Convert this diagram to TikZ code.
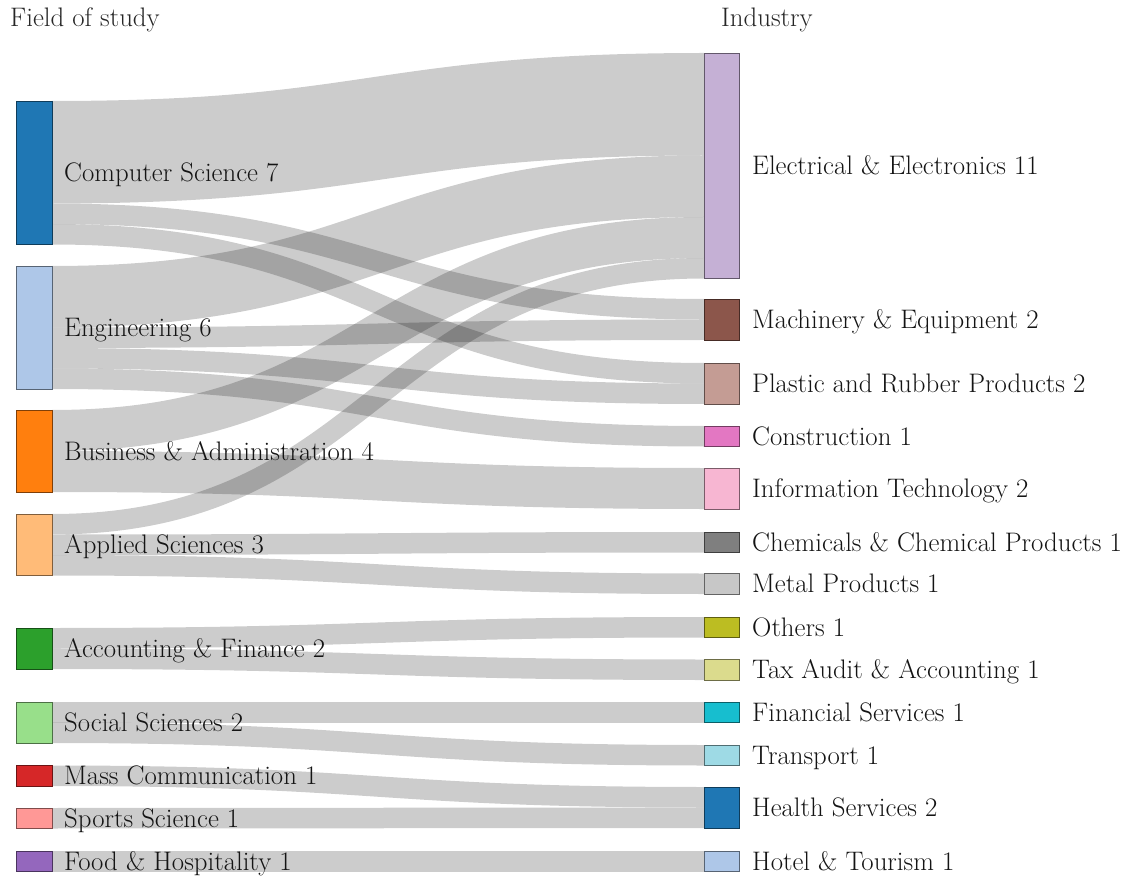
\documentclass[tikz,border=0pt]{standalone}
\usepackage{fontspec}
\usetikzlibrary{calc}
\pgfdeclarelayer{back}
\pgfdeclarelayer{bg}
\pgfsetlayers{back,bg,main}
\definecolor{cA}{HTML}{1F77B4}
\definecolor{cB}{HTML}{AEC7E8}
\definecolor{cC}{HTML}{FF7F0E}
\definecolor{cD}{HTML}{FFBB78}
\definecolor{cE}{HTML}{2CA02C}
\definecolor{cF}{HTML}{98DF8A}
\definecolor{cG}{HTML}{D62728}
\definecolor{cH}{HTML}{FF9896}
\definecolor{cI}{HTML}{9467BD}
\definecolor{cJ}{HTML}{C5B0D5}
\definecolor{cK}{HTML}{8C564B}
\definecolor{cL}{HTML}{C49C94}
\definecolor{cM}{HTML}{E377C2}
\definecolor{cN}{HTML}{F7B6D2}
\definecolor{cO}{HTML}{7F7F7F}
\definecolor{cP}{HTML}{C7C7C7}
\definecolor{cQ}{HTML}{BCBD22}
\definecolor{cR}{HTML}{DBDB8D}
\definecolor{cS}{HTML}{17BECF}
\definecolor{cT}{HTML}{9EDAE5}
\def\uu{20.5}
\tikzset{
  lbox/.style={draw=#1!50!black, fill=#1, line width=0.8pt, minimum width=36pt, inner sep=0pt, outer sep=0pt, anchor=north west},
  rbox/.style={draw=#1!50!black, fill=#1, line width=0.8pt, minimum width=35pt, inner sep=0pt, outer sep=0pt, anchor=north west},
  lbl/.style={font=\fontsize{26.8}{30}\selectfont, text=black!92, inner sep=0pt, anchor=base west},
  hdr/.style={font=\fontsize{26.8}{30}\selectfont, text=black!85, inner sep=0pt, anchor=base west},
  flowline/.style={draw=black, draw opacity=0.2}
}
\newcommand\flow[5]{%
  \begin{pgfonlayer}{bg}
  \draw[flowline, line width=#5*\uu pt] let \p1=($(#1.north east)+(0,#2*\uu)$), \p2=($(#3.north west)+(0,#4*\uu)$) in
    (\p1) .. controls ({0.5*\x1+0.5*\x2},\y1) and ({0.5*\x1+0.5*\x2},\y2) .. (\p2);
  \end{pgfonlayer}}
\begin{document}
\begin{tikzpicture}[x=1pt,y=-1pt]
\begin{pgfonlayer}{back}
\fill[white] (0,0) rectangle (1133,877);
\end{pgfonlayer}
\useasboundingbox (0,0) rectangle (1133,877);

% headers
\node[hdr] (h1) at (10,27) {Field of study};
\node[hdr] (h2) at (721,27) {Industry};

% left nodes
\node[lbox=cA, minimum height=143.5pt] (cs) at (16,101) {};
\node[lbox=cB, minimum height=123pt] (eng) at (16,266) {};
\node[lbox=cC, minimum height=82pt] (bus) at (16,410) {};
\node[lbox=cD, minimum height=61.5pt] (app) at (16,514) {};
\node[lbox=cE, minimum height=41pt] (acc) at (16,628) {};
\node[lbox=cF, minimum height=41pt] (soc) at (16,702) {};
\node[lbox=cG, minimum height=20.5pt] (mass) at (16,765.5) {};
\node[lbox=cH, minimum height=20.5pt] (spo) at (16,808) {};
\node[lbox=cI, minimum height=20.5pt] (food) at (16,851) {};

% right nodes
\node[rbox=cJ, minimum height=225.5pt] (el) at (704,53) {};
\node[rbox=cK, minimum height=41pt] (mach) at (704,299) {};
\node[rbox=cL, minimum height=41pt] (plas) at (704,363) {};
\node[rbox=cM, minimum height=20.5pt] (con) at (704,426) {};
\node[rbox=cN, minimum height=41pt] (it) at (704,468) {};
\node[rbox=cO, minimum height=20.5pt] (chem) at (704,532) {};
\node[rbox=cP, minimum height=20.5pt] (met) at (704,573.5) {};
\node[rbox=cQ, minimum height=20.5pt] (oth) at (704,617) {};
\node[rbox=cR, minimum height=20.5pt] (tax) at (704,659.5) {};
\node[rbox=cS, minimum height=20.5pt] (fin) at (704,702) {};
\node[rbox=cT, minimum height=20.5pt] (tra) at (704,745) {};
\node[rbox=cA, minimum height=41pt] (hea) at (704,787) {};
\node[rbox=cB, minimum height=20.5pt] (hot) at (704,851) {};

% flows
\flow{cs}{2.5}{el}{2.5}{5}
\flow{cs}{5.5}{mach}{0.5}{1}
\flow{cs}{6.5}{plas}{0.5}{1}
\flow{eng}{1.5}{el}{6.5}{3}
\flow{eng}{3.5}{mach}{1.5}{1}
\flow{eng}{4.5}{plas}{1.5}{1}
\flow{eng}{5.5}{con}{0.5}{1}
\flow{bus}{1}{el}{9}{2}
\flow{bus}{3}{it}{1}{2}
\flow{app}{0.5}{el}{10.5}{1}
\flow{app}{1.5}{chem}{0.5}{1}
\flow{app}{2.5}{met}{0.5}{1}
\flow{acc}{0.5}{oth}{0.5}{1}
\flow{acc}{1.5}{tax}{0.5}{1}
\flow{soc}{0.5}{fin}{0.5}{1}
\flow{soc}{1.5}{tra}{0.5}{1}
\flow{mass}{0.5}{hea}{0.5}{1}
\flow{spo}{0.5}{hea}{1.5}{1}
\flow{food}{0.5}{hot}{0.5}{1}

% left labels
\node[lbl] (csT) at ($(cs.east)+(12,9.2)$) {Computer Science 7};
\node[lbl] (engT) at ($(eng.east)+(12,9.2)$) {Engineering 6};
\node[lbl] (busT) at ($(bus.east)+(12,9.2)$) {Business \& Administration 4};
\node[lbl] (appT) at ($(app.east)+(12,9.2)$) {Applied Sciences 3};
\node[lbl] (accT) at ($(acc.east)+(12,9.2)$) {Accounting \& Finance 2};
\node[lbl] (socT) at ($(soc.east)+(12,9.2)$) {Social Sciences 2};
\node[lbl] (massT) at ($(mass.east)+(12,9.2)$) {Mass Communication 1};
\node[lbl] (spoT) at ($(spo.east)+(12,9.2)$) {Sports Science 1};
\node[lbl] (foodT) at ($(food.east)+(12,9.2)$) {Food \& Hospitality 1};

% right labels
\node[lbl] (elT) at ($(el.east)+(13,9.2)$) {Electrical \& Electronics 11};
\node[lbl] (machT) at ($(mach.east)+(13,9.2)$) {Machinery \& Equipment 2};
\node[lbl] (plasT) at ($(plas.east)+(13,9.2)$) {Plastic and Rubber Products 2};
\node[lbl] (conT) at ($(con.east)+(13,9.2)$) {Construction 1};
\node[lbl] (itT) at ($(it.east)+(13,9.2)$) {Information Technology 2};
\node[lbl] (chemT) at ($(chem.east)+(13,9.2)$) {Chemicals \& Chemical Products 1};
\node[lbl] (metT) at ($(met.east)+(13,9.2)$) {Metal Products 1};
\node[lbl] (othT) at ($(oth.east)+(13,9.2)$) {Others 1};
\node[lbl] (taxT) at ($(tax.east)+(13,9.2)$) {Tax Audit \& Accounting 1};
\node[lbl] (finT) at ($(fin.east)+(13,9.2)$) {Financial Services 1};
\node[lbl] (traT) at ($(tra.east)+(13,9.2)$) {Transport 1};
\node[lbl] (heaT) at ($(hea.east)+(13,9.2)$) {Health Services 2};
\node[lbl] (hotT) at ($(hot.east)+(13,9.2)$) {Hotel \& Tourism 1};
\end{tikzpicture}
\end{document}
